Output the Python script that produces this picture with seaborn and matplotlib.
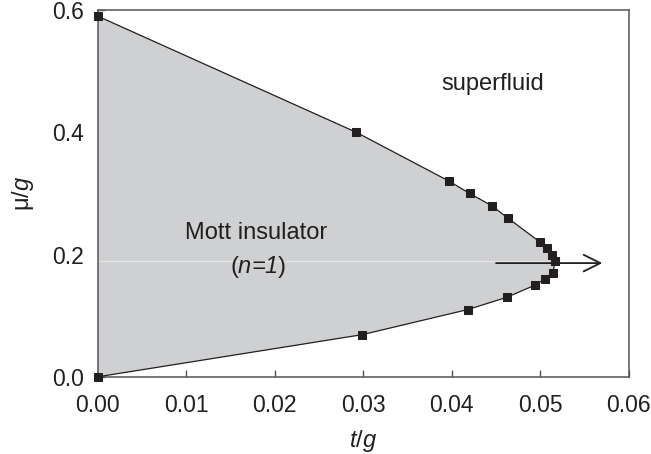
import matplotlib
matplotlib.use("Agg")
import matplotlib.pyplot as plt
import seaborn as sns

# ==========================
# DATA
# ==========================

upper_t = [0.0, 0.0292, 0.0397, 0.0420, 0.0445, 0.0463, 0.0500, 0.0507, 0.0513, 0.0517]
upper_mu = [0.59, 0.40, 0.32, 0.30, 0.28, 0.26, 0.22, 0.21, 0.20, 0.19]

lower_t = [0.0, 0.0299, 0.0418, 0.0462, 0.0494, 0.0505, 0.0514, 0.0517]
lower_mu = [0.0, 0.069, 0.11, 0.13, 0.15, 0.16, 0.17, 0.19]

x_ticks = [0.00, 0.01, 0.02, 0.03, 0.04, 0.05, 0.06]
y_ticks = [0.0, 0.2, 0.4, 0.6]

arrow_mu = 0.186
arrow_start = 0.0450
arrow_end = 0.0570

# ==========================
# STYLE
# ==========================

sns.set_style("ticks")
plt.rcParams["font.family"] = ["Liberation Sans", "DejaVu Sans"]
plt.rcParams["mathtext.fontset"] = "custom"
plt.rcParams["mathtext.rm"] = "Liberation Sans"
plt.rcParams["mathtext.it"] = "Liberation Sans:italic"

ink = "#231f20"
fill_grey = "#cfd0d2"

fig = plt.figure(figsize=(6.51, 4.54), dpi=100)
ax = fig.add_axes([0.150, 0.170, 0.816, 0.808])

# ==========================
# MOTT LOBE
# ==========================

poly_t = upper_t + lower_t[::-1]
poly_mu = upper_mu + lower_mu[::-1]
ax.fill(poly_t, poly_mu, color=fill_grey, lw=0, zorder=1)

# faint light line across the lobe
ax.plot([0.0, upper_t[-1]], [0.1895, 0.1895], color="#e4e4e5", lw=0.9, zorder=2)

for tt, mm in [(upper_t, upper_mu), (lower_t, lower_mu)]:
    sns.lineplot(
        x=tt, y=mm, sort=False, estimator=None,
        color=ink, lw=0.9, marker="s", markersize=6.2,
        markeredgecolor=ink, markerfacecolor=ink, ax=ax, zorder=3,
        clip_on=False
    )

ax.annotate(
    "", xy=(arrow_end, arrow_mu), xytext=(arrow_start, arrow_mu),
    arrowprops=dict(arrowstyle="->,head_length=1.2,head_width=0.6",
                    lw=1.3, color=ink, shrinkA=0, shrinkB=0),
    zorder=4
)

# ==========================
# LABELS
# ==========================

ax.text(0.0446, 0.479, "superfluid", fontsize=17, color=ink,
        ha="center", va="center")
ax.text(0.0179, 0.235, "Mott insulator", fontsize=17, color=ink,
        ha="center", va="center")
ax.text(0.0181, 0.180, "$\\mathrm{(}$n=1$\\mathrm{)}$", fontsize=17, color=ink,
        fontstyle="italic", ha="center", va="center")

ax.set_xlim(0, 0.06)
ax.set_ylim(0, 0.6)
ax.set_xticks(x_ticks)
ax.set_xticklabels([f"{v:.2f}" for v in x_ticks])
ax.set_yticks(y_ticks)
ax.set_yticklabels([f"{v:.1f}" for v in y_ticks])

ax.tick_params(direction="in", length=5, width=1, colors="#555555",
               labelcolor=ink, labelsize=16.5)
ax.tick_params(axis="x", pad=12.5)
ax.tick_params(axis="y", pad=9.6)

for side in ["top", "right", "bottom", "left"]:
    ax.spines[side].set_visible(True)
    ax.spines[side].set_color("#555555")
    ax.spines[side].set_linewidth(1.1)

ax.set_xlabel("$t$/$g$", fontsize=17, color=ink, labelpad=8)
ax.set_ylabel("μ/$g$", fontsize=17, color=ink, labelpad=12)

plt.savefig("out.png", dpi=100)
